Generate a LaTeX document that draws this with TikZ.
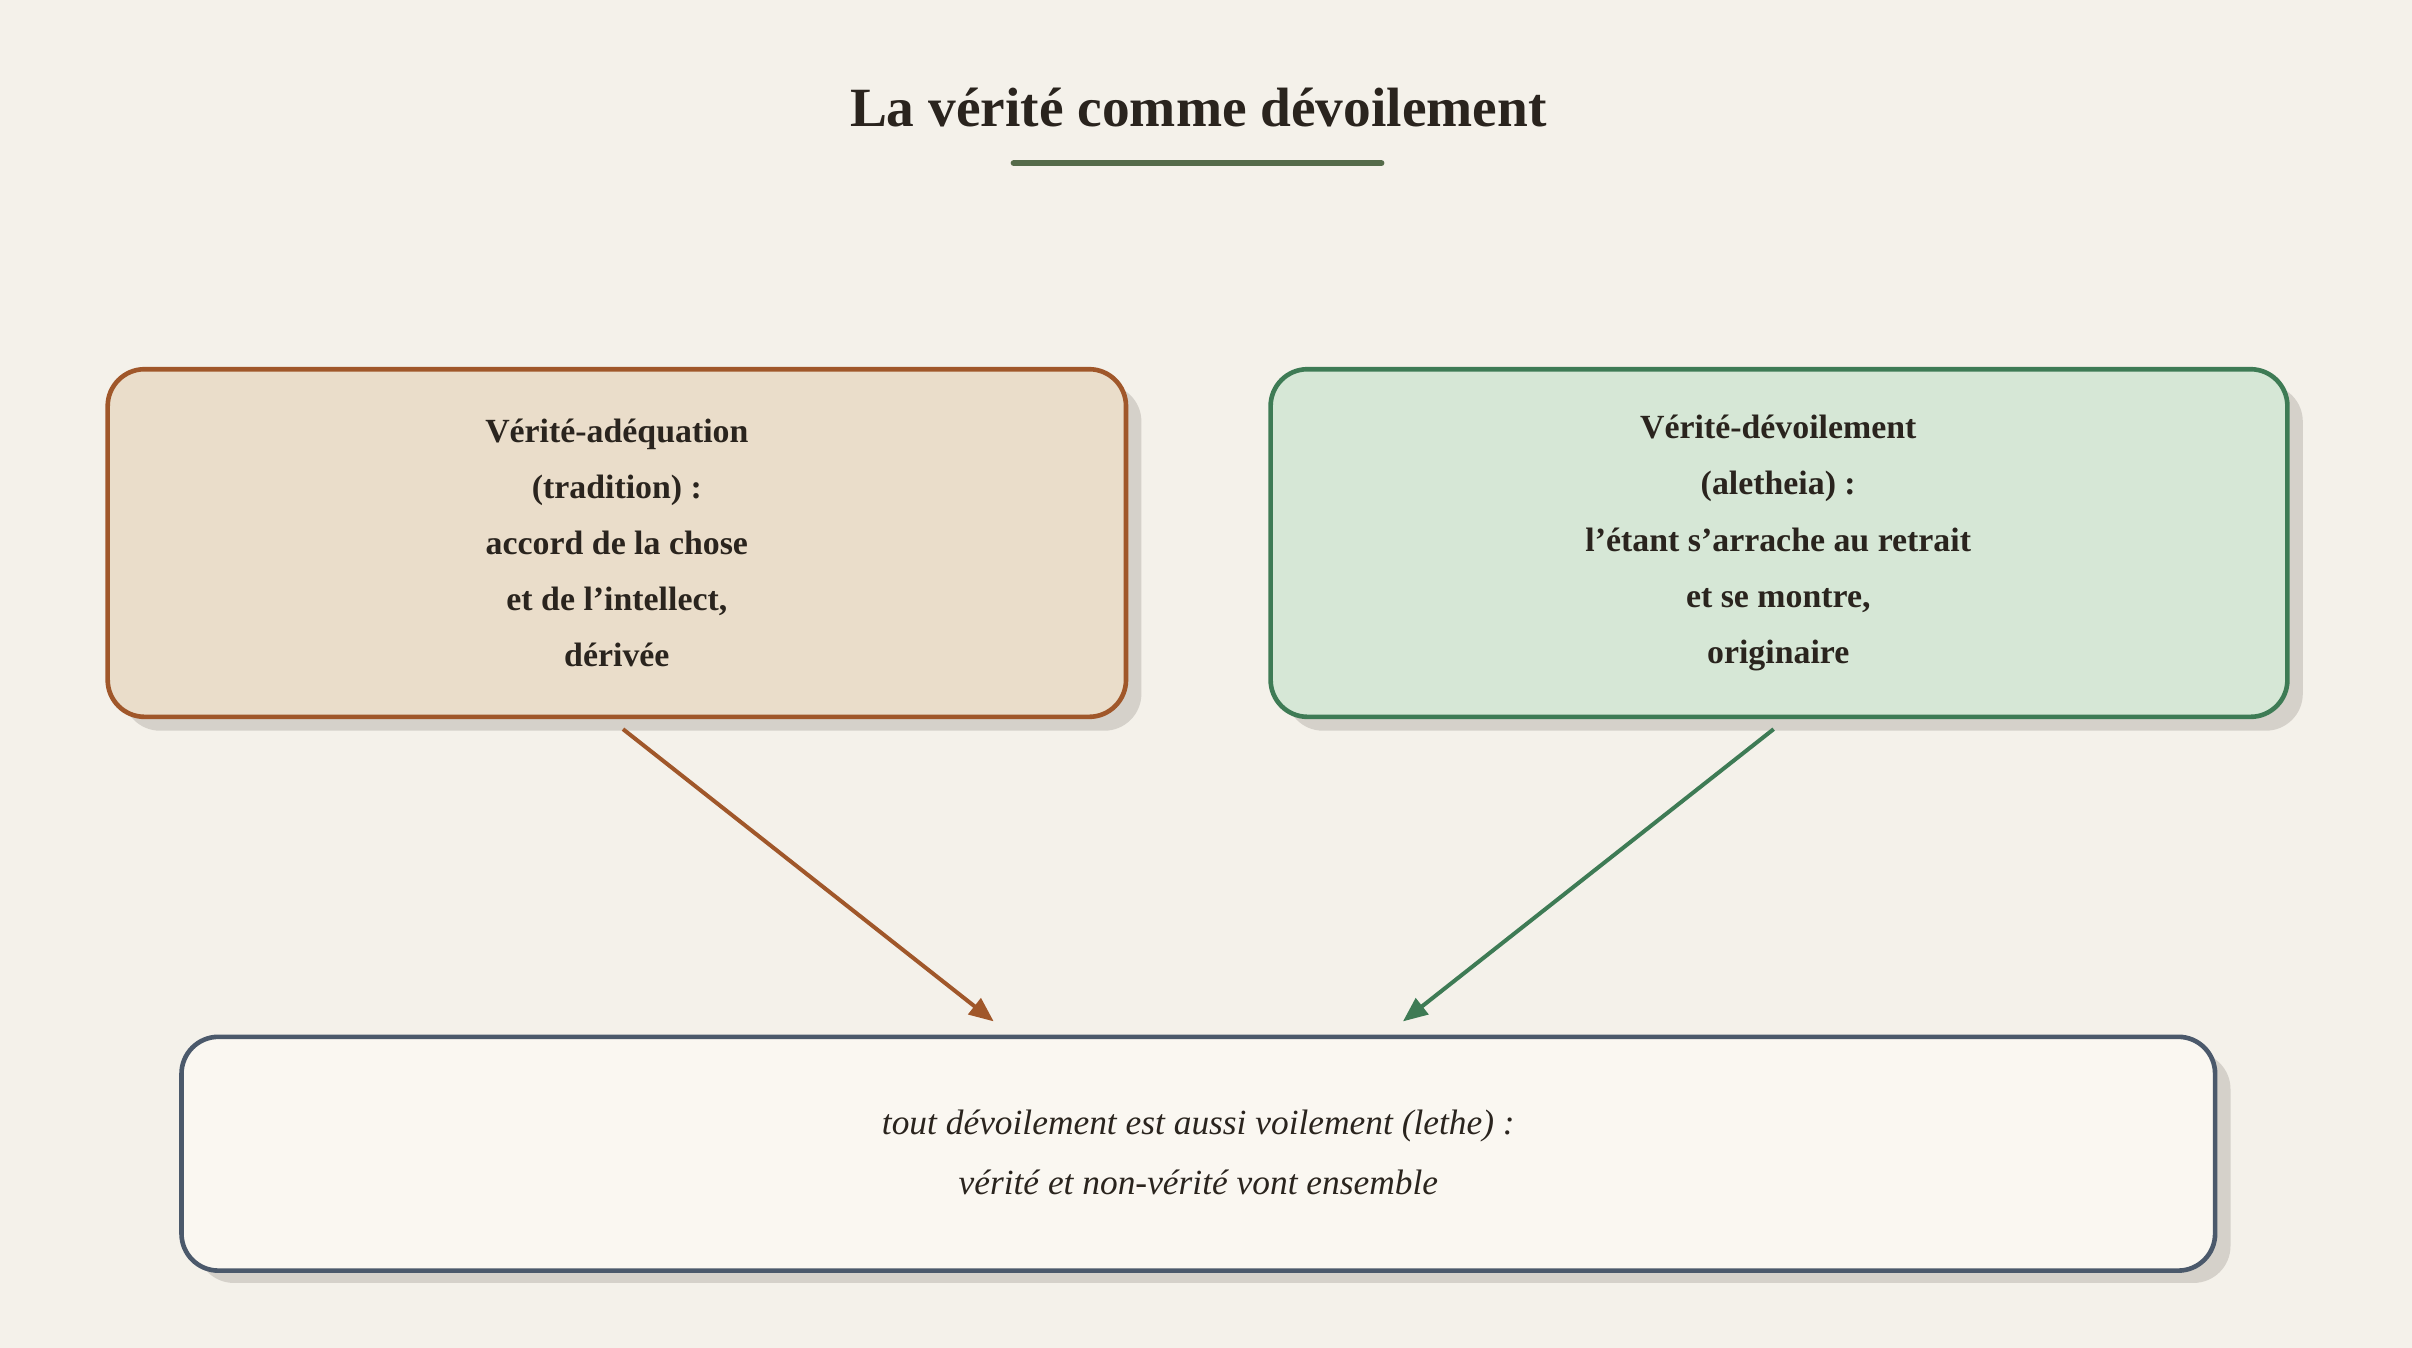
\documentclass[tikz,border=0pt]{standalone}
\usepackage{fontspec}
\setmainfont{Liberation Serif}
\usetikzlibrary{arrows.meta}
\definecolor{bg}{HTML}{F4F1EA}
\definecolor{ink}{HTML}{2A241E}
\definecolor{brownb}{HTML}{A0572A}
\definecolor{brownf}{HTML}{EADDCA}
\definecolor{greenb}{HTML}{3E7B55}
\definecolor{greenf}{HTML}{D6E7D6}
\definecolor{slateb}{HTML}{4B596B}
\definecolor{slatef}{HTML}{FAF7F1}
\definecolor{titleline}{HTML}{556B4A}
\definecolor{shadowc}{HTML}{D5D1CA}
\tikzset{
  box/.style={draw, line width=3pt, rounded corners=24pt, inner sep=0pt, text=ink, align=center},
  shadowbox/.style={fill=shadowc, rounded corners=24pt},
  arr/.style={line width=2.6pt, -{Triangle[length=16pt,width=13pt]}},
}
\begin{document}
\begin{tikzpicture}[x=1pt,y=-1pt]
\fill[bg] (0,0) rectangle (1568,876);
\useasboundingbox (0,0) rectangle (1568,876);
\node[text=ink, font=\fontsize{36}{40}\selectfont\bfseries] (title) at (779,70) {La vérité comme dévoilement};
\draw[titleline, line width=4pt, line cap=round] (659,106) -- (898,106);
% shadows
\fill[shadowbox] (80,250) rectangle (742,475);
\fill[shadowbox] (836,250) rectangle (1497,475);
\fill[shadowbox] (128,684) rectangle (1450,834);
% boxes
\draw[box, fill=brownf, draw=brownb] (70,240) rectangle (732,466);
\node[text=ink, align=center, font=\fontsize{22}{36.5}\selectfont\bfseries] (left) at (401,353)
 {Vérité-adéquation\\(tradition) :\\accord de la chose\\et de l'intellect,\\dérivée};
\draw[box, fill=greenf, draw=greenb] (826,240) rectangle (1487,466);
\node[text=ink, align=center, font=\fontsize{22}{36.5}\selectfont\bfseries] (right) at (1156,353)
 {Vérité-dévoilement\\(aletheia) :\\l'étant s'arrache au retrait\\et se montre,\\originaire};
\draw[box, fill=slatef, draw=slateb] (118,674) rectangle (1440,826);
\node[text=ink, align=center, font=\fontsize{23}{39}\selectfont\itshape] (bottom) at (779,749)
 {tout dévoilement est aussi voilement (lethe) :\\vérité et non-vérité vont ensemble};
\coordinate (ls) at (405,474);
\coordinate (le) at (646,664);
\coordinate (rs) at (1153,474);
\coordinate (re) at (912,664);
\draw[arr, brownb] (ls) -- (le);
\draw[arr, greenb] (rs) -- (re);
\end{tikzpicture}
\end{document}
